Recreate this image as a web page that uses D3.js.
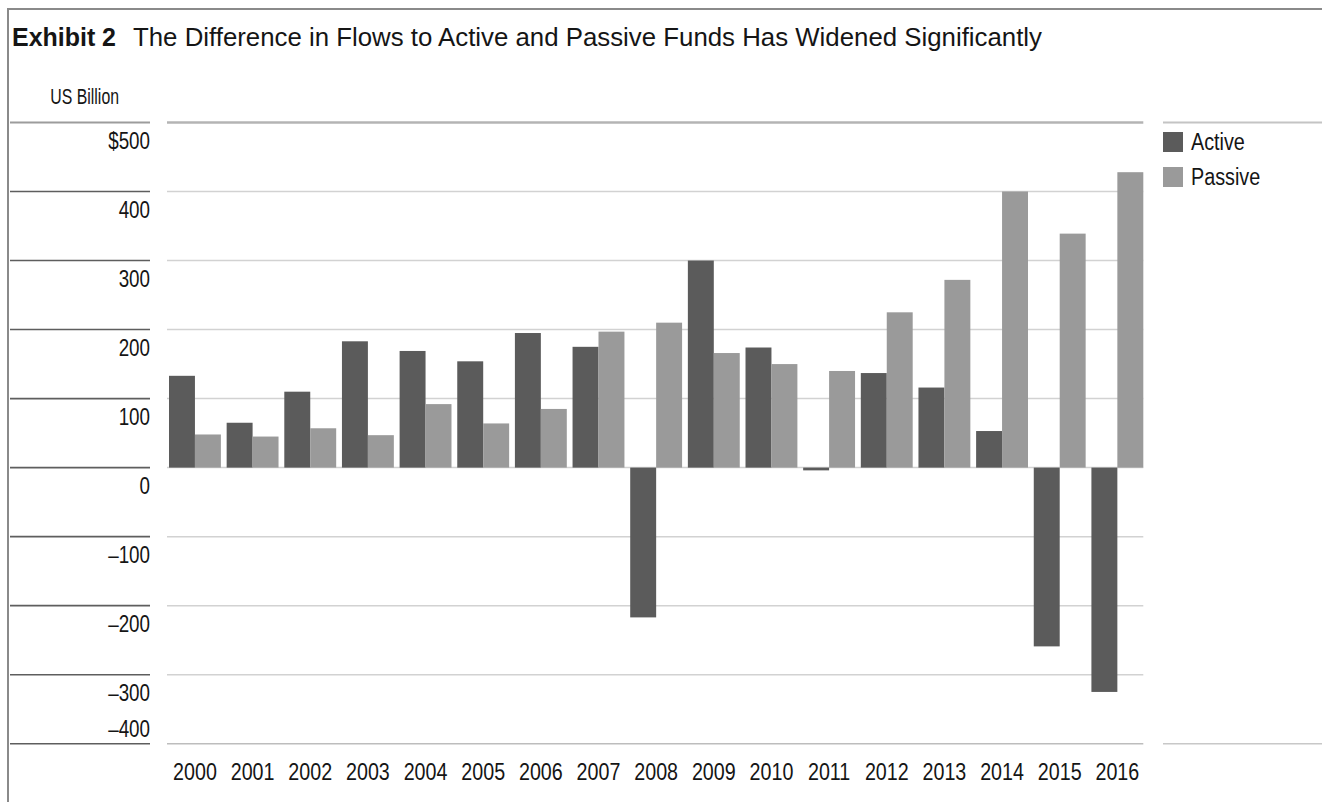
<!DOCTYPE html>
<html>
<head>
<meta charset="utf-8">
<script src="https://cdn.jsdelivr.net/npm/d3@7"></script>
<style>
  html, body { margin: 0; padding: 0; background: #fff; }
  svg { display: block; }
  text { font-family: "Liberation Sans", Arial, sans-serif; fill: #151515; }
</style>
</head>
<body>
<svg id="chart" width="1322" height="802"></svg>
<script>
// Fund flows by year, US$ billion
const years = ["2000","2001","2002","2003","2004","2005","2006","2007","2008",
               "2009","2010","2011","2012","2013","2014","2015","2016"];
const activeFlows  = [133, 65, 110, 183, 169, 154, 195, 175, -217, 300, 174, -4, 137, 116, 53, -259, -325];
const passiveFlows = [48, 45, 57, 47, 92, 64, 85, 197, 210, 166, 150, 140, 225, 272, 400, 339, 428];
const seriesNames = ["Active", "Passive"];
const tickValues = [500, 400, 300, 200, 100, 0, -100, -200, -300, -400];
const tickLabels = ["$500", "400", "300", "200", "100", "0", "\u2013100", "\u2013200", "\u2013300", "\u2013400"];

const colors = { Active: "#5b5b5b", Passive: "#9a9a9a" };

const svg = d3.select("#chart");

// squeeze text horizontally to get a condensed face
function condense(sel, factor) {
  sel.each(function () {
    const w = this.getComputedTextLength();
    d3.select(this).attr("textLength", w * factor).attr("lengthAdjust", "spacingAndGlyphs");
  });
}

// frame
svg.append("path")
  .attr("d", "M8,802 L8,9 L1322,9")
  .attr("fill", "none").attr("stroke", "#8a8a8a").attr("stroke-width", 2);

// title
svg.append("text").attr("x", 12).attr("y", 46).style("font-size", "25px")
  .attr("font-weight", "bold").attr("textLength", 104).attr("lengthAdjust", "spacingAndGlyphs")
  .text("Exhibit 2");
svg.append("text").attr("x", 133).attr("y", 46).style("font-size", "25px")
  .attr("textLength", 909).attr("lengthAdjust", "spacingAndGlyphs")
  .text("The Difference in Flows to Active and Passive Funds Has Widened Significantly");

svg.append("text").attr("x", 119).attr("y", 104).attr("text-anchor", "end")
  .style("font-size", "22px").text("US Billion").call(condense, 0.72);

// scales
const y = d3.scaleLinear().domain([-400, 500]).range([743.7, 122.5]);
const x0 = d3.scaleBand().domain(years).range([169, 1143.3]).paddingInner(0.1).paddingOuter(0);
const x1 = d3.scaleBand().domain(seriesNames).range([0, x0.bandwidth()]);

// left-side rules beside the tick labels
svg.append("g").selectAll("line").data(tickValues).join("line")
  .attr("x1", 10).attr("x2", 150)
  .attr("y1", d => y(d)).attr("y2", d => y(d))
  .attr("stroke", d => d === 500 ? "#9c9c9c" : "#5e5e5e")
  .attr("stroke-width", d => d === 500 ? 2.2 : 1.6);

// gridlines across the plot
svg.append("g").selectAll("line").data(tickValues).join("line")
  .attr("x1", 167).attr("x2", 1143.3)
  .attr("y1", d => y(d)).attr("y2", d => y(d))
  .attr("stroke", d => d === 500 ? "#b4b4b4" : (d === -400 ? "#bdbdbd" : "#d2d2d2"))
  .attr("stroke-width", d => d === 500 ? 2.6 : 1.5);

// rules continuing under the legend column
svg.append("g").selectAll("line").data([500, -400]).join("line")
  .attr("x1", 1163).attr("x2", 1322)
  .attr("y1", d => y(d)).attr("y2", d => y(d))
  .attr("stroke", d => d === 500 ? "#c4c4c4" : "#c8c8c8")
  .attr("stroke-width", d => d === 500 ? 2.2 : 1.5);

// y tick labels (placed just below each rule, the last one above)
const yAxis = d3.axisLeft(y).tickValues(tickValues).tickSize(0).tickPadding(0)
  .tickFormat((d, i) => tickLabels[i]);
const gy = svg.append("g").attr("transform", "translate(150,0)").call(yAxis);
gy.select(".domain").remove();
gy.selectAll("text")
  .attr("dy", d => d === -400 ? "-0.32em" : "1.12em")
  .attr("font-size", null).attr("font-family", null)
  .style("font-size", "23.5px").attr("fill", "#151515")
  .call(condense, 0.8);

// bars
const rows = years.map((yr, i) => ({ year: yr, values: [
  { key: "Active", value: activeFlows[i] },
  { key: "Passive", value: passiveFlows[i] }
]}));

svg.append("g").selectAll("g").data(rows).join("g")
  .attr("transform", d => `translate(${x0(d.year)},0)`)
  .selectAll("rect").data(d => d.values).join("rect")
  .attr("x", d => x1(d.key))
  .attr("width", x1.bandwidth())
  .attr("y", d => y(Math.max(0, d.value)))
  .attr("height", d => Math.abs(y(d.value) - y(0)))
  .attr("fill", d => colors[d.key]);

// x labels
const xAxis = d3.axisBottom(x0).tickSize(0).tickPadding(0);
const gx = svg.append("g").attr("transform", "translate(0,758)").call(xAxis);
gx.select(".domain").remove();
gx.selectAll("text").attr("dy", "0.9em")
  .attr("font-size", null).attr("font-family", null)
  .style("font-size", "24px").attr("fill", "#151515")
  .call(condense, 0.82);

// legend
const legend = svg.append("g").attr("transform", "translate(1163,132)");
const li = legend.selectAll("g").data(seriesNames).join("g")
  .attr("transform", (d, i) => `translate(0,${i * 35})`);
li.append("rect").attr("width", 20).attr("height", 20).attr("fill", d => colors[d]);
li.append("text").attr("x", 28).attr("y", 18).style("font-size", "23px").text(d => d)
  .call(condense, 0.86);
</script>
</body>
</html>
